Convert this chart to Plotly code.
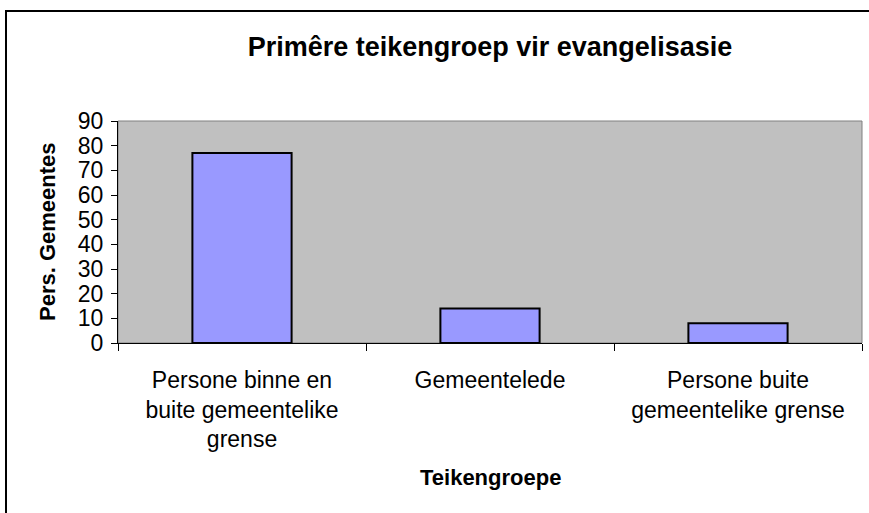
import plotly.graph_objects as go

# data
categories = ["Persone binne en<br>buite gemeentelike<br>grense", "Gemeentelede",
              "Persone buite<br>gemeentelike grense"]
values = [77, 14, 8]

W, H = 869, 513
L, R, T, B = 118, 7, 121, 170
pw, ph = W - L - R, H - T - B

def px(x):
    return (x - L) / pw

def py(y):
    return (H - B - y) / ph

fig = go.Figure()
fig.add_trace(go.Bar(
    x=categories, y=values, width=0.4,
    marker=dict(color="#9999FF", line=dict(color="black", width=2)),
))

font = "Liberation Sans, Arial, sans-serif"
fig.update_layout(
    width=W, height=H,
    margin=dict(l=L, r=R, t=T, b=B),
    paper_bgcolor="white", plot_bgcolor="#C0C0C0",
    showlegend=False,
    font=dict(family=font, color="black", size=23),
    title=dict(text="<b>Primêre teikengroep vir evangelisasie</b>", x=0.5, xref="paper",
               xanchor="center", y=1 - 47 / H, yanchor="middle",
               font=dict(size=27, family=font)),
)
fig.update_xaxes(
    showgrid=False, ticks="outside", ticklen=7, tickcolor="black",
    tickson="boundaries", showline=True, linecolor="black", linewidth=1,
    tickfont=dict(size=23), ticklabelstandoff=16,
)
fig.update_yaxes(
    range=[0, 90], dtick=10, showgrid=False, ticks="outside", ticklen=6,
    tickcolor="black", showline=True, linecolor="black", linewidth=1,
    tickfont=dict(size=23), ticklabelstandoff=3, zeroline=False,
)

# plot area border (gray, top/right)
fig.add_shape(type="rect", xref="paper", yref="paper", x0=0, x1=1, y0=0, y1=1,
              line=dict(color="#808080", width=1), layer="below")
# outer chart frame
fig.add_shape(type="rect", xref="paper", yref="paper",
              x0=px(6), x1=px(880), y0=py(530), y1=py(11),
              line=dict(color="black", width=2))

fig.add_annotation(text="<b>Pers. Gemeentes</b>", textangle=-90, xref="paper", yref="paper",
                   x=px(47), y=0.5, showarrow=False, xanchor="center", yanchor="middle",
                   font=dict(size=22))
fig.add_annotation(text="<b>Teikengroepe</b>", xref="paper", yref="paper",
                   x=0.5, y=py(477), showarrow=False, xanchor="center", yanchor="middle",
                   font=dict(size=22))

fig.write_html("out.html", config={"displayModeBar": False},
               post_script="document.body.style.margin='0';")
